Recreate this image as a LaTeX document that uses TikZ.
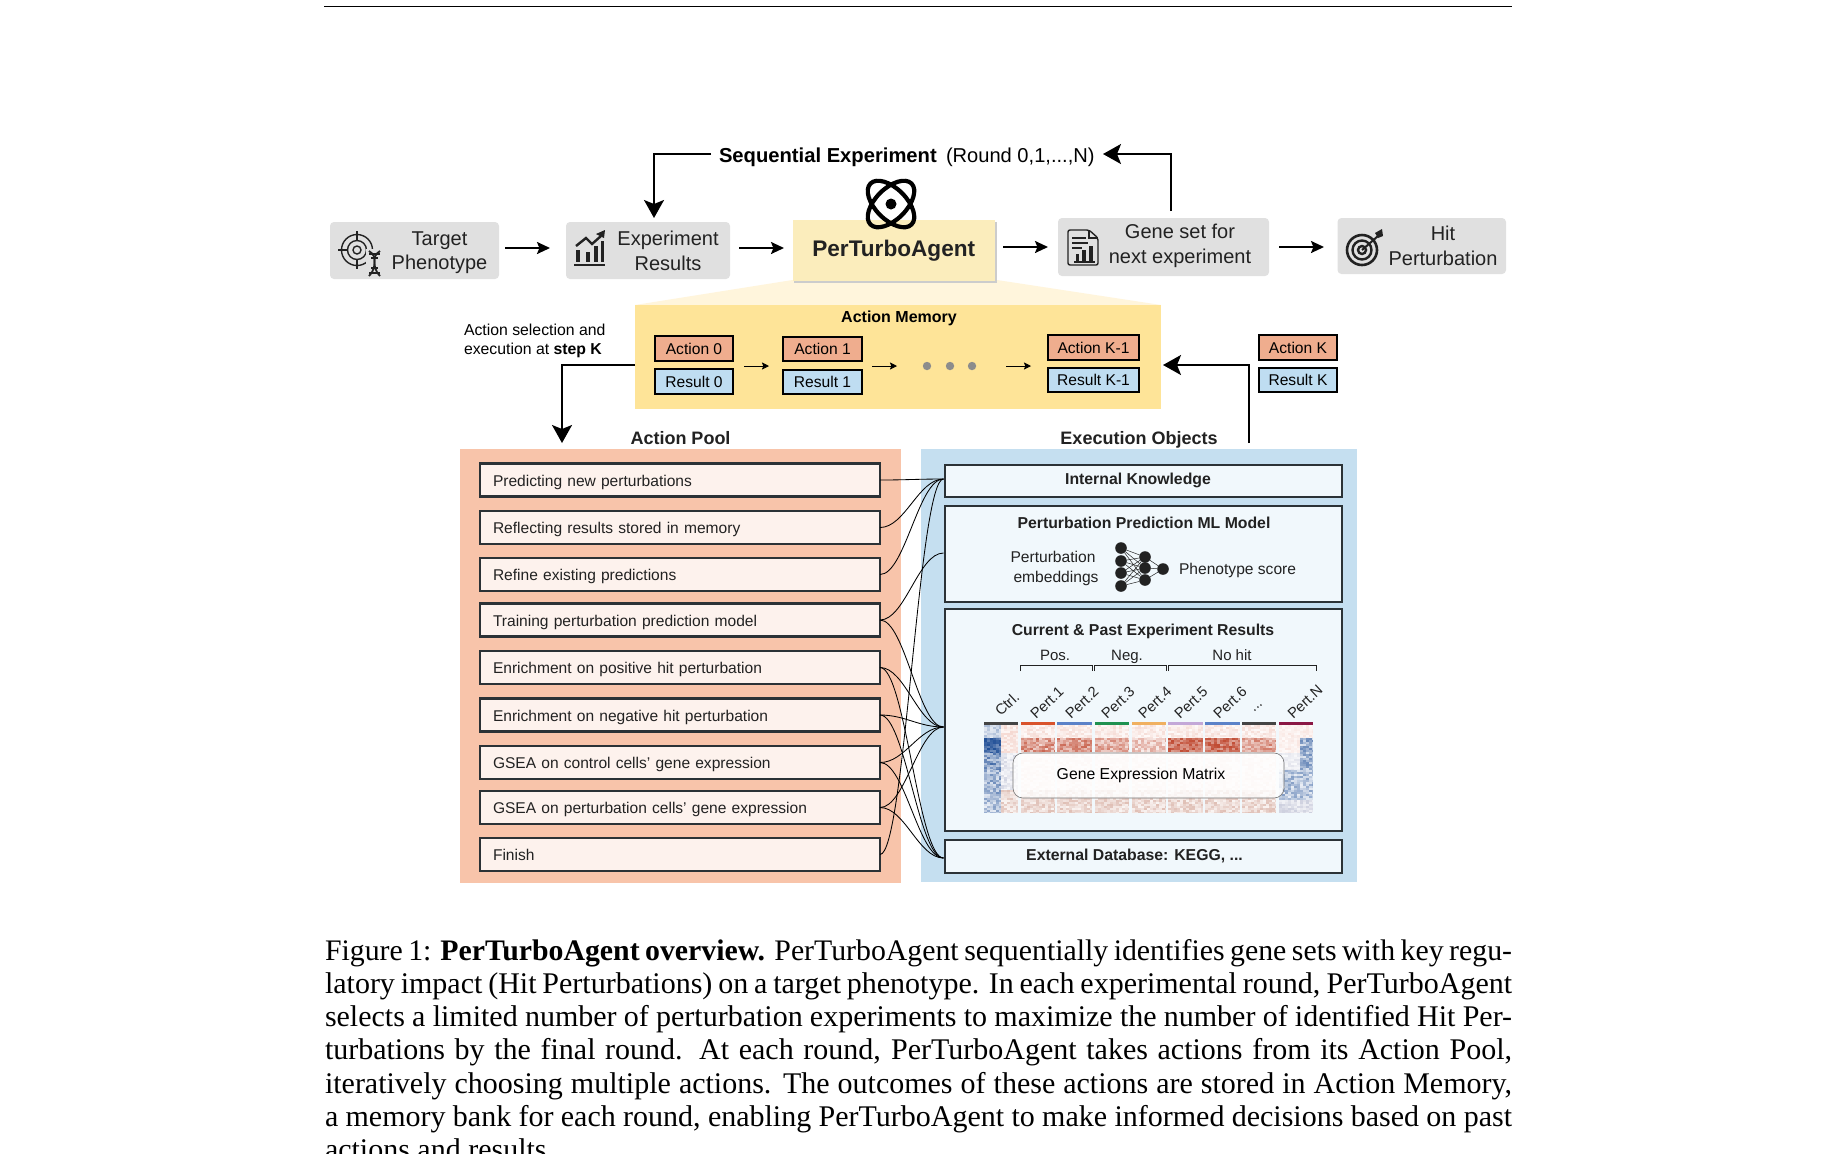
\documentclass[tikz,border=0pt]{standalone}
\usepackage{fontspec}
\setmainfont{Liberation Sans}
\newfontfamily\capfont{Liberation Serif}
\usetikzlibrary{arrows.meta,calc}
\definecolor{graybox}{HTML}{E0E0E0}
\definecolor{ptafill}{HTML}{FBEDBC}
\definecolor{funnel}{HTML}{FFF5DC}
\definecolor{memfill}{HTML}{FEE498}
\definecolor{actfill}{HTML}{EFAD8E}
\definecolor{resfill}{HTML}{BFDDF1}
\definecolor{poolfill}{HTML}{F8C4AA}
\definecolor{itemfill}{HTML}{FDF2ED}
\definecolor{objfill}{HTML}{C5DFF0}
\definecolor{innerfill}{HTML}{F1F8FC}
\definecolor{inkline}{HTML}{2B3236}
\definecolor{ink}{HTML}{222222}
\definecolor{hmr}{HTML}{C04A32}
\definecolor{hmb}{HTML}{1F4E96}
\definecolor{hmp}{HTML}{E59A88}
\definecolor{hmg}{HTML}{8E93B5}
\definecolor{hmk}{HTML}{B8705A}
\newcommand\fs[2]{\fontsize{#1}{#2}\selectfont}
\newcommand\bx[7][]{%
 \pgfmathsetmacro\bxcx{(#3+#5)/2}\pgfmathsetmacro\bxcy{(#4+#6)/2}%
 \pgfmathsetmacro\bxw{(#5-#3)/2}\pgfmathsetmacro\bxh{(#6-#4)/2}%
 \node[#1,minimum width=\bxw pt,minimum height=\bxh pt] (#2) at (\bxcx,\bxcy) {#7};}
% heatmap band: x0 x1 y0 y1 colour lo hi
\newcommand\hmband[7]{%
 \edef\hxb{\the\numexpr#1+3\relax}\edef\hxz{\the\numexpr#2-1\relax}%
 \edef\hyb{\the\numexpr#3+2\relax}\edef\hyz{\the\numexpr#4-1\relax}%
 \foreach \hx in {#1,\hxb,...,\hxz}{%
  \foreach \hy in {#3,\hyb,...,\hyz}{%
   \pgfmathtruncatemacro\hpc{#6+rnd*(#7-#6)}%
   \pgfmathsetmacro\hxe{min(\hx+3,#2)}%
   \pgfmathsetmacro\hye{min(\hy+2,#4)}%
   \fill[#5!\hpc!white] (\hx,\hy) rectangle (\hxe,\hye);
  }}}
\newcommand\wireto[2]{\draw[wire] (#1) .. controls +(25,0) and +(-25,0) .. (#2);}
\tikzset{
 x=0.5pt,y=-0.5pt,
 every node/.style={inner sep=0pt,outer sep=0pt,text=ink},
 grayb/.style={fill=graybox,rounded corners=2pt},
 boxtxt/.style={font=\fs{10}{12.3},align=center},
 hb/.style={-{Stealth[length=6.5pt,width=6pt,inset=1.2pt]},line width=1pt,black},
 bigb/.style={-{Stealth[length=9pt,width=10pt,inset=2pt]},line width=1pt,black},
 smallb/.style={-{Stealth[length=3.5pt,width=3.5pt,inset=.6pt]},line width=.4pt,black},
 actb/.style={draw=black,line width=1.1pt,fill=actfill,font=\fs{7.8}{9},text=black},
 resb/.style={draw=black,line width=1.1pt,fill=resfill,font=\fs{7.8}{9},text=black},
 itemb/.style={draw=inkline,line width=1.15pt,fill=itemfill,minimum height=16.5pt,text width=187pt,
   inner xsep=6.5pt,inner ysep=0pt,align=left,font=\fs{7.78}{9},text height=7pt,text depth=1pt},
 objb/.style={draw=inkline,line width=1.15pt,fill=innerfill},
 ttl/.style={font=\fs{7.9}{9}\bfseries},
 wire/.style={line width=.42pt,black},
 nn/.style={circle,fill=ink,minimum size=5.8pt},
 nne/.style={line width=.25pt,ink},
 rotl/.style={font=\fs{7.3}{9},rotate=43},
 capl/.style={anchor=base west,font=\capfont\fs{15}{16.5},text=black},
}
\begin{document}
\begin{tikzpicture}
\useasboundingbox (0,0) rectangle (1836,1153);
\fill[white] (0,0) rectangle (1836,1153);
\coordinate (rl) at (324,6);
\coordinate (rr) at (1512,6);
\draw[line width=.5pt,black] (rl) -- (rr);

% top row
\bx[grayb]{target}{330}{222}{499}{279}{}
\bx[grayb]{expres}{566}{222}{730}{279}{}
\fill[funnel] (792.5,280) -- (997,280) -- (1161,305) -- (635,305) -- cycle;
\fill[black!20] (794,222) rectangle (997,282.5);
\bx[fill=ptafill]{pta}{792.5}{220}{995}{280.5}{\fs{11.3}{13}\bfseries PerTurboAgent}
\bx[grayb]{geneset}{1058}{218}{1269}{276}{}
\bx[grayb]{hit}{1337.5}{218}{1506}{274}{}
\node[boxtxt] (targett) at (439.5,252.5) {Target\\Phenotype};
\node[boxtxt] (exprt) at (668,251) {Experiment\\Results};
\node[boxtxt] (genet) at (1180,246) {Gene set for\\next experiment};
\node[boxtxt] (hitt) at (1443,246) {Hit\\Perturbation};

\coordinate (a1s) at (505,248); \coordinate (a1e) at (550,248);
\coordinate (a2s) at (739,248); \coordinate (a2e) at (784,248);
\coordinate (a3s) at (1003,247); \coordinate (a3e) at (1048,247);
\coordinate (a4s) at (1279,247); \coordinate (a4e) at (1324,247);
\draw[hb] (a1s) -- (a1e);
\draw[hb] (a2s) -- (a2e);
\draw[hb] (a3s) -- (a3e);
\draw[hb] (a4s) -- (a4e);

% sequential title
\node[anchor=base west,font=\fs{10.1}{12}\bfseries,text=black] (seq) at (719,162) {Sequential Experiment};
\node[anchor=base west,font=\fs{10.05}{12},text=black] (round) at (946,162) {(Round 0,1,...,N)};
\coordinate (seqR) at (1103,154);
\coordinate (seqL) at (711,154);
\draw[bigb] (seqL) -| (654,218);
\draw[bigb] (1171,211) |- (seqR);

% atom
\begin{scope}[line width=2.1pt,black]
\draw[rotate around={45:(891,204)}] (891,204) ellipse (29 and 15.5);
\draw[rotate around={-45:(891,204)}] (891,204) ellipse (29 and 15.5);
\fill (891,204) circle (5.5);
\end{scope}

% target + dna icon
\begin{scope}[line width=.7pt,ink]
\draw (357,250) circle (15.5); \draw (357,250) circle (9.5); \draw (357,250) circle (4);
\draw (357,231) -- (357,240); \draw (357,260) -- (357,269);
\draw (338,250) -- (347,250); \draw (367,250) -- (376,250);
\fill[graybox] (366,249) rectangle (385,278);
\draw[line width=.9pt] (369,251) .. controls (380,258) and (369,264) .. (380,276);
\draw[line width=.9pt] (380,251) .. controls (369,258) and (380,264) .. (369,276);
\draw (369,254) -- (380,254); \draw (371,258) -- (378,258); \draw (371,268) -- (378,268); \draw (369,273) -- (380,273);
\end{scope}
% chart icon
\begin{scope}[ink]
\fill (576,250) rectangle (580,262);
\fill (586,252) rectangle (590,262);
\fill (594,246) rectangle (598,262);
\fill (601,241) rectangle (604,262);
\draw[line width=.8pt] (574,265) -- (605,265);
\draw[line width=1.2pt] (576,246) -- (586,238) -- (592,244) -- (601,236);
\fill (596,234) -- (604,238) -- (605,230) -- cycle;
\end{scope}
% document icon
\begin{scope}[ink]
\draw[line width=.7pt,rounded corners=1pt] (1068,230) -- (1068,265) -- (1098,265) -- (1098,238) -- (1089,230) -- cycle;
\draw[line width=.6pt] (1089,230) -- (1089,238) -- (1098,238);
\draw[line width=.7pt] (1072,238) -- (1086,238) (1072,243) -- (1088,243) (1072,248) -- (1082,248);
\fill (1076,254) rectangle (1079,261);
\fill (1082,250) rectangle (1086,261);
\fill (1089,246) rectangle (1093,261);
\draw[line width=.7pt] (1074,262) -- (1095,262);
\end{scope}
% bullseye icon
\begin{scope}[ink]
\draw[line width=1.3pt] (1362,250) circle (15);
\draw[line width=1.2pt] (1362,250) circle (9.5);
\draw[line width=1.2pt] (1362,250) circle (4);
\draw[line width=1pt] (1362,250) -- (1378,236);
\fill (1375,233) -- (1378,238) -- (1383,236) -- (1382,229) -- cycle;
\end{scope}

% action memory
\bx[fill=memfill]{mem}{635}{305}{1161}{409}{}
\node[font=\fs{8}{10}\bfseries,text=black] (memt) at (899,318.5) {Action Memory};
\bx[actb]{a0}{655}{336}{733}{361}{Action 0}
\bx[resb]{r0}{655}{369}{733}{394}{Result 0}
\bx[actb]{a1}{783}{337}{862}{361}{Action 1}
\bx[resb]{r1}{783}{370}{862}{394}{Result 1}
\bx[actb]{ak1}{1048}{335}{1139}{360}{Action K-1}
\bx[resb]{rk1}{1048}{368}{1139}{392}{Result K-1}
\bx[actb]{ak}{1259}{335}{1337}{360}{Action K}
\bx[resb]{rk}{1259}{368}{1337}{392}{Result K}
\coordinate (s1s) at (744,366); \coordinate (s1e) at (769,366);
\coordinate (s2s) at (872,366); \coordinate (s2e) at (897,366);
\coordinate (s3s) at (1006,366); \coordinate (s3e) at (1031,366);
\draw[smallb] (s1s) -- (s1e);
\draw[smallb] (s2s) -- (s2e);
\draw[smallb] (s3s) -- (s3e);
\foreach \dx in {927,950,972} \fill[black!45] (\dx,366) circle (4.2);

\node[anchor=west,align=left,font=\fs{7.9}{9.6},text=black] (sel) at (464,341) {Action selection and\\execution at \textbf{step K}};

\coordinate (poolin) at (562,443);
\coordinate (objout) at (1248.5,443);
\coordinate (memL) at ($(mem.west)+(0,8)$);
\coordinate (memR) at ($(mem.east)+(2,8)$);
\draw[bigb] (memL) -| (poolin);
\draw[bigb] (objout) |- (memR);

\node[anchor=base,font=\fs{9}{11}\bfseries] (poolt) at (680.5,444) {Action Pool};
\node[anchor=base,font=\fs{9}{11}\bfseries] (objt) at (1139,444) {Execution Objects};

% panels
\bx[fill=poolfill]{pool}{460}{449}{901}{883}{}
\bx[fill=objfill]{objs}{921}{449}{1357}{882}{}

% items
\node[itemb] (i1) at (680,480) {Predicting new perturbations};
\node[itemb] (i2) at (680,527.5) {Reflecting results stored in memory};
\node[itemb] (i3) at (680,574.5) {Refine existing predictions};
\node[itemb] (i4) at (680,620) {Training perturbation prediction model};
\node[itemb] (i5) at (680,667.5) {Enrichment on positive hit perturbation};
\node[itemb] (i6) at (680,715) {Enrichment on negative hit perturbation};
\node[itemb] (i7) at (680,762.5) {GSEA on control cells’ gene expression};
\node[itemb] (i8) at (680,807.5) {GSEA on perturbation cells’ gene expression};
\node[itemb] (i9) at (680,854.5) {Finish};

% objects
\bx[objb]{ik}{945}{465}{1342}{497}{}
\bx[objb]{pp}{945}{506}{1342}{602}{}
\bx[objb]{cur}{945}{609}{1342}{831}{}
\bx[objb]{ext}{945}{840}{1342}{873}{}
\node[ttl] (ikt) at (1138,480) {Internal Knowledge};
\node[ttl] (extt) at (1134.5,856) {External Database: KEGG, ...};
\node[ttl] (ppt) at (1144,523) {Perturbation Prediction ML Model};
\node[align=center,font=\fs{7.8}{10}] (ppi) at (1053,568) {Perturbation\\\hspace*{3pt}embeddings};
\node[anchor=west,font=\fs{7.8}{9}] (ppo) at (1179,570) {Phenotype score};
\foreach \n/\ny in {a/548,b/561,c/573,d/586} \node[nn] (n\n) at (1121,\ny) {};
\foreach \n/\ny in {e/557,f/568,g/580} \node[nn] (n\n) at (1145,\ny) {};
\node[nn] (nh) at (1163,569) {};
\foreach \s in {a,b,c,d} \foreach \t in {e,f,g} \draw[nne] (n\s) -- (n\t);
\foreach \t in {e,f,g} \draw[nne] (n\t) -- (nh);

\node[ttl] (curt) at (1143,631) {Current \& Past Experiment Results};
\node[anchor=base,font=\fs{7.5}{9}] (lpos) at (1055,660) {Pos.};
\node[anchor=base,font=\fs{7.5}{9}] (lneg) at (1127,660) {Neg.};
\node[anchor=base,font=\fs{7.5}{9}] (lno) at (1232,660) {No hit};
\begin{scope}[line width=.45pt,ink]
\draw (1020,671) -- (1020,665) -- (1092,665) -- (1092,671);
\draw (1094,671) -- (1094,665) -- (1166,665) -- (1166,671);
\draw (1168,671) -- (1168,665) -- (1316,665) -- (1316,671);
\end{scope}
\foreach \lx/\ly/\lt in {1007/704/Ctrl.,1047/703/Pert.1,1082/703/Pert.2,1118/703/Pert.3,1155/703/Pert.4,1191/703/Pert.5,1230/703/Pert.6,1305/702/Pert.N}
 \node[rotl] (lab\lx) at (\lx,\ly) {\lt};
\node[rotl] (labdots) at (1258,708) {{.}{.}{.}};

% heatmap
\pgfmathsetseed{7}
% ctrl
\hmband{984}{1001}{725}{738}{hmb}{10}{40}
\hmband{984}{1001}{738}{753}{hmb}{65}{100}
\hmband{984}{1001}{753}{770}{hmb}{25}{85}
\hmband{984}{1001}{770}{796}{hmb}{15}{65}
\hmband{984}{1001}{796}{813}{hmb}{10}{55}
\hmband{1001}{1018}{725}{753}{hmp}{8}{40}
\hmband{1001}{1018}{753}{790}{hmg}{5}{40}
\hmband{1001}{1018}{790}{813}{hmk}{8}{45}
% pert columns
\foreach \cx/\cxe/\pa/\pb in {1021/1055/20/85,1057/1092/30/85,1095/1129/20/70,1132/1166/8/50,1168/1203/55/100,1205/1240/50/100,1242/1276/25/75}{%
 \hmband{\cx}{\cxe}{725}{738}{hmp}{5}{35}
 \hmband{\cx}{\cxe}{738}{752}{hmr}{\pa}{\pb}
 \hmband{\cx}{\cxe}{752}{790}{hmp}{5}{28}
 \hmband{\cx}{\cxe}{790}{813}{hmk}{8}{45}
}
% pert N
\hmband{1279}{1313}{725}{738}{hmp}{5}{25}
\hmband{1279}{1300}{738}{753}{hmp}{5}{25}
\hmband{1300}{1313}{738}{770}{hmb}{15}{70}
\hmband{1279}{1300}{753}{770}{hmg}{5}{25}
\hmband{1279}{1313}{770}{800}{hmb}{10}{55}
\hmband{1279}{1313}{800}{813}{hmg}{10}{45}
\foreach \cx/\cxe/\cc in {984/1018/444444,1021/1055/D9532C,1057/1092/5B82C8,1095/1129/1F9150,1132/1166/F0B060,1168/1203/C3A8D8,1205/1240/5B82C8,1242/1276/444444,1279/1313/8A1744}{%
 \definecolor{barc}{HTML}{\cc}
 \fill[barc] (\cx,722) rectangle (\cxe,724.5);
}
\bx[draw=black!55,line width=.3pt,fill=white,fill opacity=.78,text opacity=1,rounded corners=5pt]{gem}{1013}{753}{1284}{798}{}
\node[font=\fs{7.9}{9},text=black] (gemt) at (1141,775) {Gene Expression Matrix};

% wires
\coordinate (ikin) at (943.5,479);
\coordinate (ppin) at (943.5,553);
\coordinate (curin) at (943.5,727);
\coordinate (extin) at (943.5,858);
\wireto{i1.east}{ikin}
\wireto{i2.east}{ikin}
\wireto{i3.east}{ikin}
\wireto{i9.east}{ikin}
\wireto{i4.east}{ppin}
\foreach \k in {i4,i5,i6,i7,i8} {\wireto{\k.east}{curin}}
\foreach \k in {i5,i6,i7,i8} {\wireto{\k.east}{extin}}

% caption
\node[capl,font=\capfont\fs{14.9}{16.5}] (c1) at (325,960) {\makebox[593.5pt][s]{Figure 1: \textbf{PerTurboAgent overview.} PerTurboAgent sequentially identifies gene sets with key regu-}};
\node[capl] (c2) at (325,993) {\makebox[593.5pt][s]{latory impact (Hit Perturbations) on a target phenotype. In each experimental round, PerTurboAgent}};
\node[capl] (c3) at (325,1026) {\makebox[593.5pt][s]{selects a limited number of perturbation experiments to maximize the number of identified Hit Per-}};
\node[capl] (c4) at (325,1059) {\makebox[593.5pt][s]{turbations by the final round. At each round, PerTurboAgent takes actions from its Action Pool,}};
\node[capl] (c5) at (325,1093) {\makebox[593.5pt][s]{iteratively choosing multiple actions. The outcomes of these actions are stored in Action Memory,}};
\node[capl] (c6) at (325,1126) {\makebox[593.5pt][s]{a memory bank for each round, enabling PerTurboAgent to make informed decisions based on past}};
\node[capl] (c7) at (325,1159) {actions and results.};
\end{tikzpicture}
\end{document}
